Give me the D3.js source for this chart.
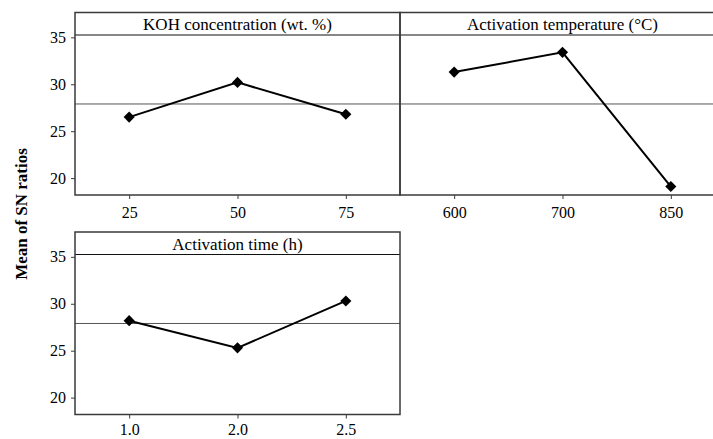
<!DOCTYPE html>
<html>
<head>
<meta charset="utf-8">
<script src="https://cdn.jsdelivr.net/npm/d3@7"></script>
<style>
  body { margin: 0; background: #fff; }
</style>
</head>
<body>
<div id="chart"></div>
<script>
// main effects plot for SN ratios
var factors = ["KOH concentration (wt. %)", "Activation temperature (\u00B0C)", "Activation time (h)"];
var levels = [["25", "50", "75"], ["600", "700", "850"], ["1.0", "2.0", "2.5"]];
var snMeans = [[26.5, 30.2, 26.8], [31.3, 33.4, 19.1], [28.2, 25.3, 30.3]];
var overallMean = 27.9;
var yTicks = [20, 25, 30, 35];

var serif = "'Liberation Serif', 'Times New Roman', serif";
var width = 713, height = 439;
var svg = d3.select("#chart").append("svg")
  .attr("width", width)
  .attr("height", height)
  .style("font-family", serif);

// panel geometry
var left = 75, panelW = 325, panelH = 182.5, headH = 22.5;
var tops = [12.5, 232];
var panels = factors.map(function (f, i) {
  return { name: f, levels: levels[i], values: snMeans[i],
           x: left + (i % 2) * panelW, y: tops[Math.floor(i / 2)],
           col: i % 2, row: Math.floor(i / 2) };
});

var diamond = d3.symbol().type(d3.symbolSquare).size(62);

panels.forEach(function (p) {
  var g = svg.append("g").attr("transform", "translate(" + p.x + "," + p.y + ")");

  var x = d3.scalePoint().domain(p.levels).range([0, panelW]).padding(0.5);
  var y = d3.scaleLinear().domain([18.2, 35.25]).range([panelH, headH]);

  // mean line
  g.append("line")
    .attr("x1", 0).attr("x2", panelW)
    .attr("y1", y(overallMean)).attr("y2", y(overallMean))
    .attr("stroke", "#555").attr("stroke-width", 1);

  // header strip
  g.append("line")
    .attr("x1", 0).attr("x2", panelW)
    .attr("y1", headH).attr("y2", headH)
    .attr("stroke", "#111").attr("stroke-width", 1.2);
  g.append("text")
    .attr("x", panelW / 2).attr("y", 17.5)
    .attr("text-anchor", "middle")
    .style("font-family", serif)
    .style("font-size", "17px")
    .text(p.name);

  // frame
  g.append("rect")
    .attr("width", panelW).attr("height", panelH)
    .attr("fill", "none").attr("stroke", "#3a3a3a").attr("stroke-width", 1.5);

  // x axis (bottom row sits against the page edge, so a bit tighter)
  var xa = g.append("g")
    .attr("transform", "translate(0," + panelH + ")")
    .call(d3.axisBottom(x).tickSize(4).tickPadding(p.row === 1 ? 5 : 8));
  xa.select(".domain").remove();
  xa.selectAll("line").attr("stroke", "#3a3a3a");
  xa.selectAll("text").style("font-size", "16px").style("font-family", serif).attr("fill", "#000");

  // y axis only on left column
  if (p.col === 0) {
    var ya = g.append("g")
      .call(d3.axisLeft(y).tickValues(yTicks).tickSize(4).tickPadding(5));
    ya.select(".domain").remove();
    ya.selectAll("line").attr("stroke", "#3a3a3a");
    ya.selectAll("text").style("font-size", "16px").style("font-family", serif).attr("fill", "#000");
  }

  // effect line + markers
  var pts = p.levels.map(function (l, i) { return [x(l), y(p.values[i])]; });
  g.append("path")
    .attr("d", d3.line()(pts))
    .attr("fill", "none").attr("stroke", "#000").attr("stroke-width", 2);
  g.selectAll(".pt").data(pts).enter()
    .append("path")
      .attr("class", "pt")
      .attr("d", diamond)
      .attr("transform", function (d) { return "translate(" + d[0] + "," + d[1] + ") rotate(45)"; })
      .attr("fill", "#000");
});

// y axis title
svg.append("text")
  .attr("transform", "translate(27,214) rotate(-90)")
  .attr("text-anchor", "middle")
  .style("font-family", serif)
  .style("font-size", "17px")
  .style("font-weight", "bold")
  .text("Mean of SN ratios");
</script>
</body>
</html>
